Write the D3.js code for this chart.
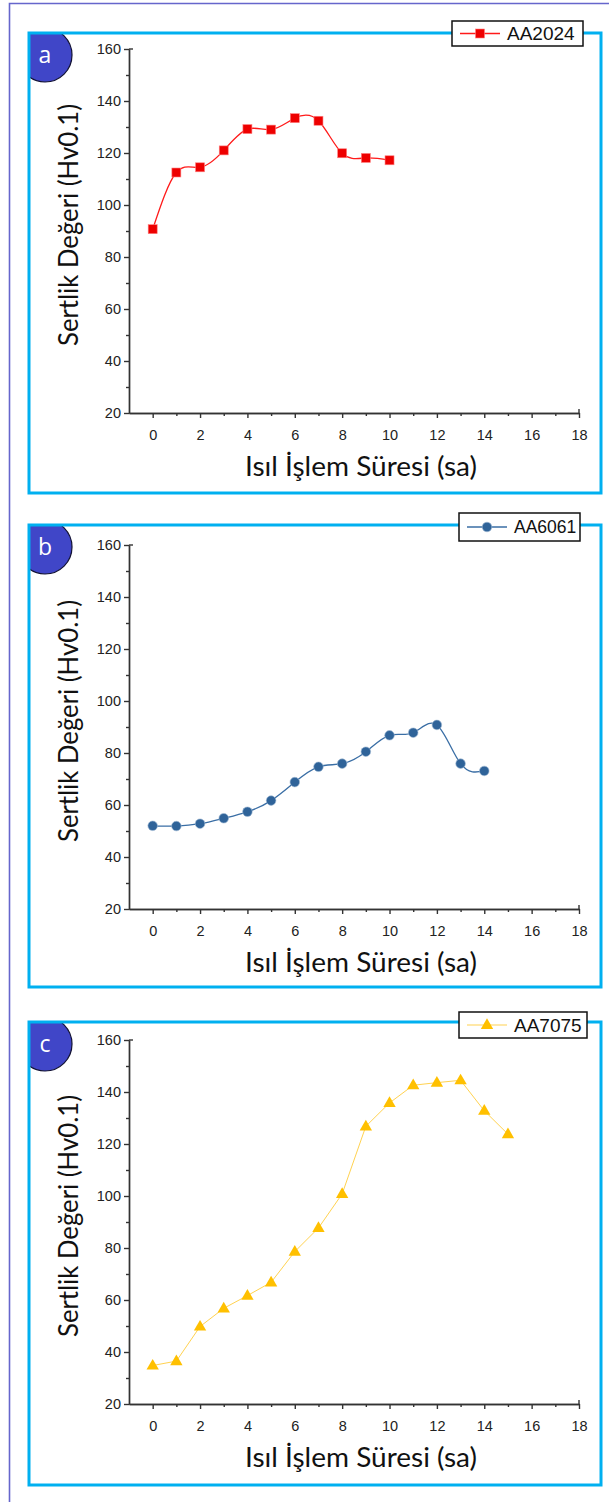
<!DOCTYPE html>
<html><head><meta charset="utf-8">
<script src="https://cdn.jsdelivr.net/npm/d3@7"></script>
<style>body{margin:0;background:#fff}svg{display:block}</style></head>
<body><svg id="chart" width="609" height="1502"></svg>
<script>
// ---- data ----
const hoursA = [0,1,2,3,4,5,6,7,8,9,10];
const aa2024 = [90.7,112.5,114.5,121.0,129.2,129.0,133.4,132.4,119.9,118.1,117.2];
const hoursB = [0,1,2,3,4,5,6,7,8,9,10,11,12,13,14];
const aa6061 = [52.0,51.9,52.8,54.9,57.4,61.7,68.8,74.7,75.9,80.5,86.8,87.8,90.8,75.9,73.1];
const hoursC = [0,1,2,3,4,5,6,7,8,9,10,11,12,13,14,15];
const aa7075 = [34.8,36.5,49.8,56.8,61.7,66.8,78.6,87.7,100.8,126.8,135.8,142.6,143.6,144.5,132.8,123.8];
const xTicks = [0,2,4,6,8,10,12,14,16,18];
const xMinor = [1,3,5,7,9,11,13,15,17];
const yTicks = [20,40,60,80,100,120,140,160];
const yMinor = [30,50,70,90,110,130,150];
const panelLetters = ["a","b","c"];
const seriesNames = ["AA2024","AA6061","AA7075"];
const xTitle = "Isıl İşlem Süresi (sa)";
const yTitle = "Sertlik Değeri (Hv0.1)";

// ---- layout ----
const panels = [
  {x: hoursA, y: aa2024, name: seriesNames[0], letter: panelLetters[0], top: 33, bottom: 493, y160: 49, y20: 413,
   leg: [452,21,131,25], fs: 19, mcolor: "#ee0000", shape: "square", curve: d3.curveNatural, lw: 1.3, lc: "#ff1a1a"},
  {x: hoursB, y: aa6061, name: seriesNames[1], letter: panelLetters[1], top: 525, bottom: 987, y160: 545, y20: 909,
   leg: [459,513,121,28], fs: 17.5, mcolor: "#2f6399", shape: "circle", curve: d3.curveNatural, lw: 1.3, lc: "#3a6ea5"},
  {x: hoursC, y: aa7075, name: seriesNames[2], letter: panelLetters[2], top: 1022, bottom: 1485, y160: 1040, y20: 1404,
   leg: [459,1012,128,26], fs: 19, mcolor: "#ffc000", shape: "triangle", curve: d3.curveLinear, lw: 1.0, lc: "#ffd250"}
];

const svg = d3.select("#chart");
// outer frame
svg.append("path").attr("d","M9.5,1502 L9.5,3.5 L609,3.5").attr("fill","none").attr("stroke","#6666cc").attr("stroke-width",1.6);

const axisFont = "'Liberation Sans', Arial, sans-serif";
const titleFont = "Lato, 'Open Sans', sans-serif";

function marker(g, shape, cx, cy, fill) {
  if (shape === "square") {
    g.append("rect").attr("x",cx-4.5).attr("y",cy-4.5).attr("width",9).attr("height",9)
      .attr("fill",fill).attr("stroke","#ff8080").attr("stroke-width",0.6);
  } else if (shape === "circle") {
    g.append("circle").attr("cx",cx).attr("cy",cy).attr("r",4.8).attr("fill",fill)
      .attr("stroke","#9fb8d4").attr("stroke-width",0.6);
  } else {
    const s = d3.symbol().type(d3.symbolTriangle).size(66);
    g.append("path").attr("d",s()).attr("transform",`translate(${cx},${cy+0.5})`).attr("fill",fill);
  }
}

panels.forEach((p, i) => {
  const g = svg.append("g");
  const left = 29, right = 601;
  const x = d3.scaleLinear().domain([-1,18]).range([129,579]);
  const y = d3.scaleLinear().domain([20,160]).range([p.y20, p.y160]);

  // letter badge clipped to panel
  const cid = "clip"+i;
  svg.append("clipPath").attr("id",cid).append("rect").attr("x",left).attr("y",p.top).attr("width",right-left).attr("height",p.bottom-p.top);
  const badge = g.append("g").attr("clip-path",`url(#${cid})`);
  badge.append("circle").attr("cx",45).attr("cy",p.top+22).attr("r",27).attr("fill","#4046c8").attr("stroke","#111133").attr("stroke-width",1.2);
  g.append("text").attr("x",45).attr("y",p.top+22).attr("dy","0.33em").attr("text-anchor","middle")
    .attr("fill","#fff").attr("font-family","'Open Sans', sans-serif").attr("font-size",23).text(p.letter);

  // panel border
  g.append("rect").attr("x",left).attr("y",p.top).attr("width",right-left).attr("height",p.bottom-p.top)
    .attr("fill","none").attr("stroke","#00b0f0").attr("stroke-width",3);

  // axes
  const axC = "#333";
  const ya = g.append("g").attr("transform",`translate(${x(-1)},0)`)
    .call(d3.axisLeft(y).tickValues(yTicks).tickSize(5).tickSizeOuter(0).tickPadding(3));
  const yam = g.append("g").attr("transform",`translate(${x(-1)},0)`)
    .call(d3.axisLeft(y).tickValues(yMinor).tickSize(3).tickSizeOuter(0).tickFormat(""));
  const xa = g.append("g").attr("transform",`translate(0,${y(20)})`)
    .call(d3.axisBottom(x).tickValues(xTicks).tickSize(5).tickSizeOuter(0).tickPadding(12));
  const xam = g.append("g").attr("transform",`translate(0,${y(20)})`)
    .call(d3.axisBottom(x).tickValues(xMinor).tickSize(3).tickSizeOuter(0).tickFormat(""));
  [ya,yam,xa,xam].forEach(a => {
    a.selectAll("path,line").attr("stroke",axC).attr("stroke-width",1.4);
    a.selectAll("text").attr("fill","#222").attr("font-family",axisFont).attr("font-size",14.5);
  });
  // end caps
  g.append("line").attr("x1",x(-1)).attr("x2",x(-1)+4).attr("y1",y(160)).attr("y2",y(160)).attr("stroke",axC).attr("stroke-width",1.4);
  g.append("line").attr("x1",x(18)).attr("x2",x(18)).attr("y1",y(20)).attr("y2",y(20)-4).attr("stroke",axC).attr("stroke-width",1.4);

  // titles
  g.append("text").attr("x",361).attr("y",y(20)+63).attr("text-anchor","middle")
    .attr("textLength",232).attr("lengthAdjust","spacingAndGlyphs")
    .attr("font-family",titleFont).attr("font-size",26).attr("fill","#111").text(xTitle);
  g.append("text").attr("transform",`translate(78,${(y(20)+y(160))/2 - 6}) rotate(-90)`).attr("text-anchor","middle")
    .attr("textLength",242).attr("lengthAdjust","spacingAndGlyphs")
    .attr("font-family",titleFont).attr("font-size",26).attr("fill","#111").text(yTitle);

  // series
  const pts = p.x.map((v,k) => [x(v), y(p.y[k])]);
  g.append("path").attr("d", d3.line().curve(p.curve)(pts)).attr("fill","none").attr("stroke",p.lc).attr("stroke-width",p.lw);
  pts.forEach(q => marker(g, p.shape, q[0], q[1], p.mcolor));

  // legend
  const [lx,ly,lw,lh] = p.leg;
  g.append("rect").attr("x",lx).attr("y",ly).attr("width",lw).attr("height",lh).attr("fill","#fff").attr("stroke","#111").attr("stroke-width",1.5);
  const my = ly + lh/2;
  g.append("line").attr("x1",lx+8).attr("x2",lx+48).attr("y1",my).attr("y2",my).attr("stroke",p.lc).attr("stroke-width",p.lw+0.2);
  marker(g, p.shape, lx+28, my, p.mcolor);
  g.append("text").attr("x",lx+55).attr("y",my).attr("dy","0.36em").attr("font-family",axisFont).attr("font-size",p.fs).attr("fill","#111").text(p.name);
});
</script></body></html>
